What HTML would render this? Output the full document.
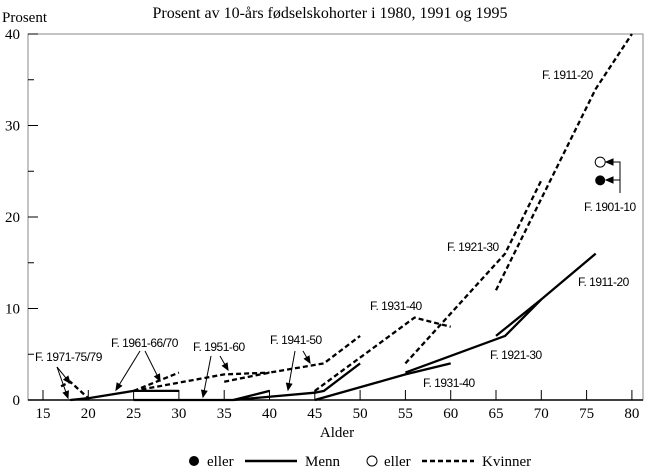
<!DOCTYPE html>
<html><head><meta charset="utf-8"><style>
body{margin:0;background:#fff}
svg{display:block}
.tk{font-family:"Liberation Serif",serif;font-size:15px}
.lb{font-family:"Liberation Sans",sans-serif;font-size:12px;letter-spacing:-0.5px}
</style></head><body>
<svg id="c" width="650" height="467" viewBox="0 0 650 467">
<text class="tk" x="330" y="18" text-anchor="middle" style="font-size:16px">Prosent av 10-års fødselskohorter i 1980, 1991 og 1995</text>
<text class="tk" x="2" y="22">Prosent</text>
<text class="tk" x="337" y="437" text-anchor="middle">Alder</text>
<rect x="28" y="34" width="615" height="366" fill="none" stroke="#888" stroke-width="1"/>
<g id="axes"></g>
<g id="series"></g>
<g id="ann" stroke="#000" stroke-width="1" fill="none"></g>
<g>
<circle cx="194" cy="461" r="5" fill="#000"/>
<text class="tk" x="207" y="466">eller</text>
<line x1="245" y1="461" x2="297" y2="461" stroke="#000" stroke-width="2.5"/>
<text class="tk" x="305" y="466">Menn</text>
<circle cx="372" cy="461" r="5" fill="#fff" stroke="#000"/>
<text class="tk" x="384" y="466">eller</text>
<line x1="422" y1="461" x2="474" y2="461" stroke="#000" stroke-width="2.5" stroke-dasharray="5,3"/>
<text class="tk" x="482" y="466">Kvinner</text>
</g>
</svg>
<script>
const xTicks=[15,20,25,30,35,40,45,50,55,60,65,70,75,80];
const yTicks=[0,10,20,30,40];
const yMinor=[5,15,25,35];
const menSeries=[
 [[18,0],[20,0.2],[25,1],[30,1]],
 [[25,0],[36,0],[40,1]],
 [[36,0],[45,0.8],[46,1],[50,4]],
 [[45,0],[55,2.8],[60,4]],
 [[55,3],[66,7],[70,11]],
 [[65,7],[70,11],[76,16]]
];
const womenSeries=[
 [[17,1.5],[18,2],[20,0.2]],
 [[25,1],[30,3]],
 [[25,1],[35,2.8],[40,3]],
 [[35,2],[40,3],[46,4],[50,7]],
 [[45,1],[56,9],[60,8]],
 [[55,4],[66,16],[70,24]],
 [[65,12],[70,22],[76,34],[80,40]]
];
const men1901=[76.5,24];
const women1901=[76.5,26];
const NS="http://www.w3.org/2000/svg";
const X=v=>43+(v-15)*9.06, Y=v=>400-v*9.15;
const ax=document.getElementById('axes'),se=document.getElementById('series'),an=document.getElementById('ann');
function mk(p,tag,a){const e=document.createElementNS(NS,tag);for(const k in a)e.setAttribute(k,a[k]);p.appendChild(e);return e;}
const bl=mk(ax,'line',{x1:28,y1:400,x2:643,y2:400,stroke:'#000','stroke-width':1.5});


xTicks.forEach(v=>{
 const l=mk(ax,'line',{x1:X(v),y1:400,x2:X(v),y2:390,stroke:'#000'});
 
 
 const t=mk(ax,'text',{x:X(v),y:418,'text-anchor':'middle',class:'tk'});t.textContent=v;
 
 
});
yTicks.forEach(v=>{
 const l=mk(ax,'line',{x1:28,y1:Y(v),x2:38,y2:Y(v),stroke:'#000'});
 
 
 const t=mk(ax,'text',{x:20,y:Y(v)+5,'text-anchor':'end',class:'tk'});t.textContent=v;
 
 
});
yMinor.forEach(v=>{
 const l=mk(ax,'line',{x1:28,y1:Y(v),x2:34,y2:Y(v),stroke:'#000'});
 
 
});
const pts=s=>s.map(p=>X(p[0]).toFixed(1)+','+Y(p[1]).toFixed(1)).join(' ');
menSeries.forEach(s=>{
 const e=mk(se,'polyline',{points:pts(s),fill:'none',stroke:'#000','stroke-width':2.3});
 
 
});
womenSeries.forEach(s=>{
 const e=mk(se,'polyline',{points:pts(s),fill:'none',stroke:'#000','stroke-width':2.3,'stroke-dasharray':'5,3'});
 
 
});
const c1=mk(se,'circle',{cx:X(men1901[0]),cy:Y(men1901[1]),r:5,fill:'#000'});


const c2=mk(se,'circle',{cx:X(women1901[0]),cy:Y(women1901[1]),r:5,fill:'#fff',stroke:'#000'});


const labels=[["F. 1911-20",542,79],["F. 1921-30",447,251],["F. 1931-40",370,310],["F. 1941-50",270,344],["F. 1951-60",193,351],["F. 1961-66/70",111,347],["F. 1971-75/79",35,361],["F. 1911-20",578,286],["F. 1921-30",490,359],["F. 1931-40",423,387],["F. 1901-10",584,211]];
labels.forEach(l=>{
 const t=mk(se,'text',{x:l[1],y:l[2],class:'lb'});t.textContent=l[0];
 
 
});
const arrows=[[57,367,68,398],[57,367,70,383],[140,351,116,390],[145,351,160,381],[211,356,203,397],[220,356,228,370],[295,351,288,390],[303,351,310,363]];
arrows.forEach(a=>{
 const l=mk(an,'line',{x1:a[0],y1:a[1],x2:a[2],y2:a[3]});
 
 
 const ang=Math.atan2(a[3]-a[1],a[2]-a[0]),L=7,w=0.4;
 const h=mk(an,'polygon',{points:`${a[2]},${a[3]} ${a[2]-L*Math.cos(ang-w)},${a[3]-L*Math.sin(ang-w)} ${a[2]-L*Math.cos(ang+w)},${a[3]-L*Math.sin(ang+w)}`,fill:'#000'});
 
 
});
const br=mk(an,'polyline',{points:'611,162 620,162 620,193'});


[[620,162,606,162],[620,180,606,180]].forEach(a=>{
 const l=mk(an,'line',{x1:a[0],y1:a[1],x2:a[2],y2:a[3]});
 
 
 const h=mk(an,'polygon',{points:`${a[2]},${a[3]} ${a[2]+7},${a[3]-3} ${a[2]+7},${a[3]+3}`,fill:'#000'});
 
 
});
</script>
</body></html>
